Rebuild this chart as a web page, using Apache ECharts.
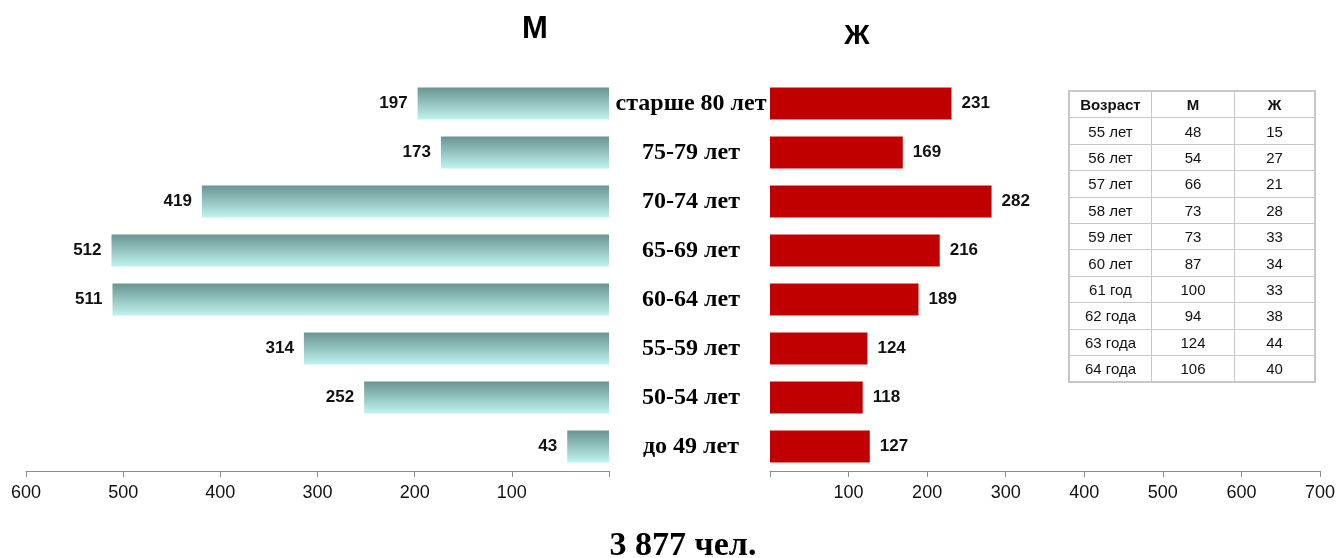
<!DOCTYPE html>
<html>
<head>
<meta charset="utf-8">
<script src="https://cdn.jsdelivr.net/npm/echarts@6/dist/echarts.min.js"></script>
<style>
  html, body { margin: 0; padding: 0; background: #fff; }
  #chart { width: 1338px; height: 558px; }
  #tbl {
    position: absolute; left: 1068px; top: 90px;
    border-collapse: collapse; font-family: Arial, "Liberation Sans", sans-serif;
    font-size: 15px; color: #111; border: 2px solid #c8c8c8;
  }
  #tbl td, #tbl th {
    border: 1px solid #c8c8c8; text-align: center; padding: 0;
    height: 25.4px; line-height: 25px;
  }
  #tbl th { font-weight: bold; }
</style>
</head>
<body>
<div id="chart"></div>
<table id="tbl"></table>
<script>
// группы возрастов сверху вниз
var ageGroups = ["старше 80 лет", "75-79 лет", "70-74 лет", "65-69 лет", "60-64 лет", "55-59 лет", "50-54 лет", "до 49 лет"];
var men = [197, 173, 419, 512, 511, 314, 252, 43];
var women = [231, 169, 282, 216, 189, 124, 118, 127];

// таблица справа
var tableHead = ["Возраст", "М", "Ж"];
var tableAges = ["55 лет", "56 лет", "57 лет", "58 лет", "59 лет", "60 лет", "61 год", "62 года", "63 года", "64 года"];
var tableMen = [48, 54, 66, 73, 73, 87, 100, 94, 124, 106];
var tableWomen = [15, 27, 21, 28, 33, 34, 33, 38, 44, 40];

var totalText = "3 877 чел.";

var html = "<tr><th style='width:81px'>" + tableHead[0] + "</th><th style='width:82px'>" + tableHead[1] + "</th><th style='width:79px'>" + tableHead[2] + "</th></tr>";
for (var i = 0; i < tableAges.length; i++) {
  html += "<tr><td>" + tableAges[i] + "</td><td>" + tableMen[i] + "</td><td>" + tableWomen[i] + "</td></tr>";
}
document.getElementById("tbl").innerHTML = html;

var myChart = echarts.init(document.getElementById("chart"));

var axisText = { color: "#111", fontSize: 18, fontFamily: "Arial, 'Liberation Sans'" };
var valueText = { color: "#111", fontSize: 17, fontWeight: "bold", fontFamily: "Arial, 'Liberation Sans'" };

var option = {
  animation: false,
  title: [
    { text: "М", left: 530, top: 9, textAlign: "center",
      textStyle: { fontSize: 31, fontWeight: "bold", color: "#000", fontFamily: "Arial, 'Liberation Sans'" } },
    { text: "Ж", left: 852, top: 17, textAlign: "center",
      textStyle: { fontSize: 28, fontWeight: "bold", color: "#000", fontFamily: "Arial, 'Liberation Sans'" } },
    { text: totalText, left: 678, top: 524, textAlign: "center",
      textStyle: { fontSize: 34, fontWeight: "bold", color: "#000", fontFamily: "'Liberation Serif', 'Times New Roman', serif" } }
  ],
  grid: [
    { left: 26, width: 583, top: 79, height: 392 },
    { left: 770, width: 550, top: 79, height: 392 }
  ],
  xAxis: [
    {
      gridIndex: 0, type: "value", inverse: true, min: 0, max: 600, interval: 100,
      axisLine: { show: true, lineStyle: { color: "#8c8c8c" } },
      axisTick: { show: true, length: 6, lineStyle: { color: "#8c8c8c" } },
      splitLine: { show: false },
      axisLabel: Object.assign({ margin: 13, formatter: function (v) { return v === 0 ? "" : v; } }, axisText)
    },
    {
      gridIndex: 1, type: "value", min: 0, max: 700, interval: 100,
      axisLine: { show: true, lineStyle: { color: "#8c8c8c" } },
      axisTick: { show: true, length: 6, lineStyle: { color: "#8c8c8c" } },
      splitLine: { show: false },
      axisLabel: Object.assign({ margin: 13, formatter: function (v) { return v === 0 ? "" : v; } }, axisText)
    }
  ],
  yAxis: [
    {
      gridIndex: 0, type: "category", data: ageGroups, inverse: true, position: "right",
      axisLine: { show: false }, axisTick: { show: false }, axisLabel: { show: false }
    },
    {
      gridIndex: 1, type: "category", data: ageGroups, inverse: true, position: "left",
      axisLine: { show: false }, axisTick: { show: false },
      axisLabel: {
        align: "center", margin: 79, color: "#000", fontSize: 24, fontWeight: "bold",
        fontFamily: "'Liberation Serif', 'Times New Roman', serif"
      }
    }
  ],
  series: [
    {
      name: "М", type: "bar", xAxisIndex: 0, yAxisIndex: 0, data: men, barWidth: "65%",
      itemStyle: {
        color: new echarts.graphic.LinearGradient(0, 0, 0, 1, [
          { offset: 0, color: "#6a9492" },
          { offset: 1, color: "#bff4ef" }
        ])
      },
      label: Object.assign({ show: true, position: "left", distance: 10 }, valueText)
    },
    {
      name: "Ж", type: "bar", xAxisIndex: 1, yAxisIndex: 1, data: women, barWidth: "65%",
      itemStyle: { color: "#c00000" },
      label: Object.assign({ show: true, position: "right", distance: 10 }, valueText)
    }
  ]
};
myChart.setOption(option);
</script>
</body>
</html>
